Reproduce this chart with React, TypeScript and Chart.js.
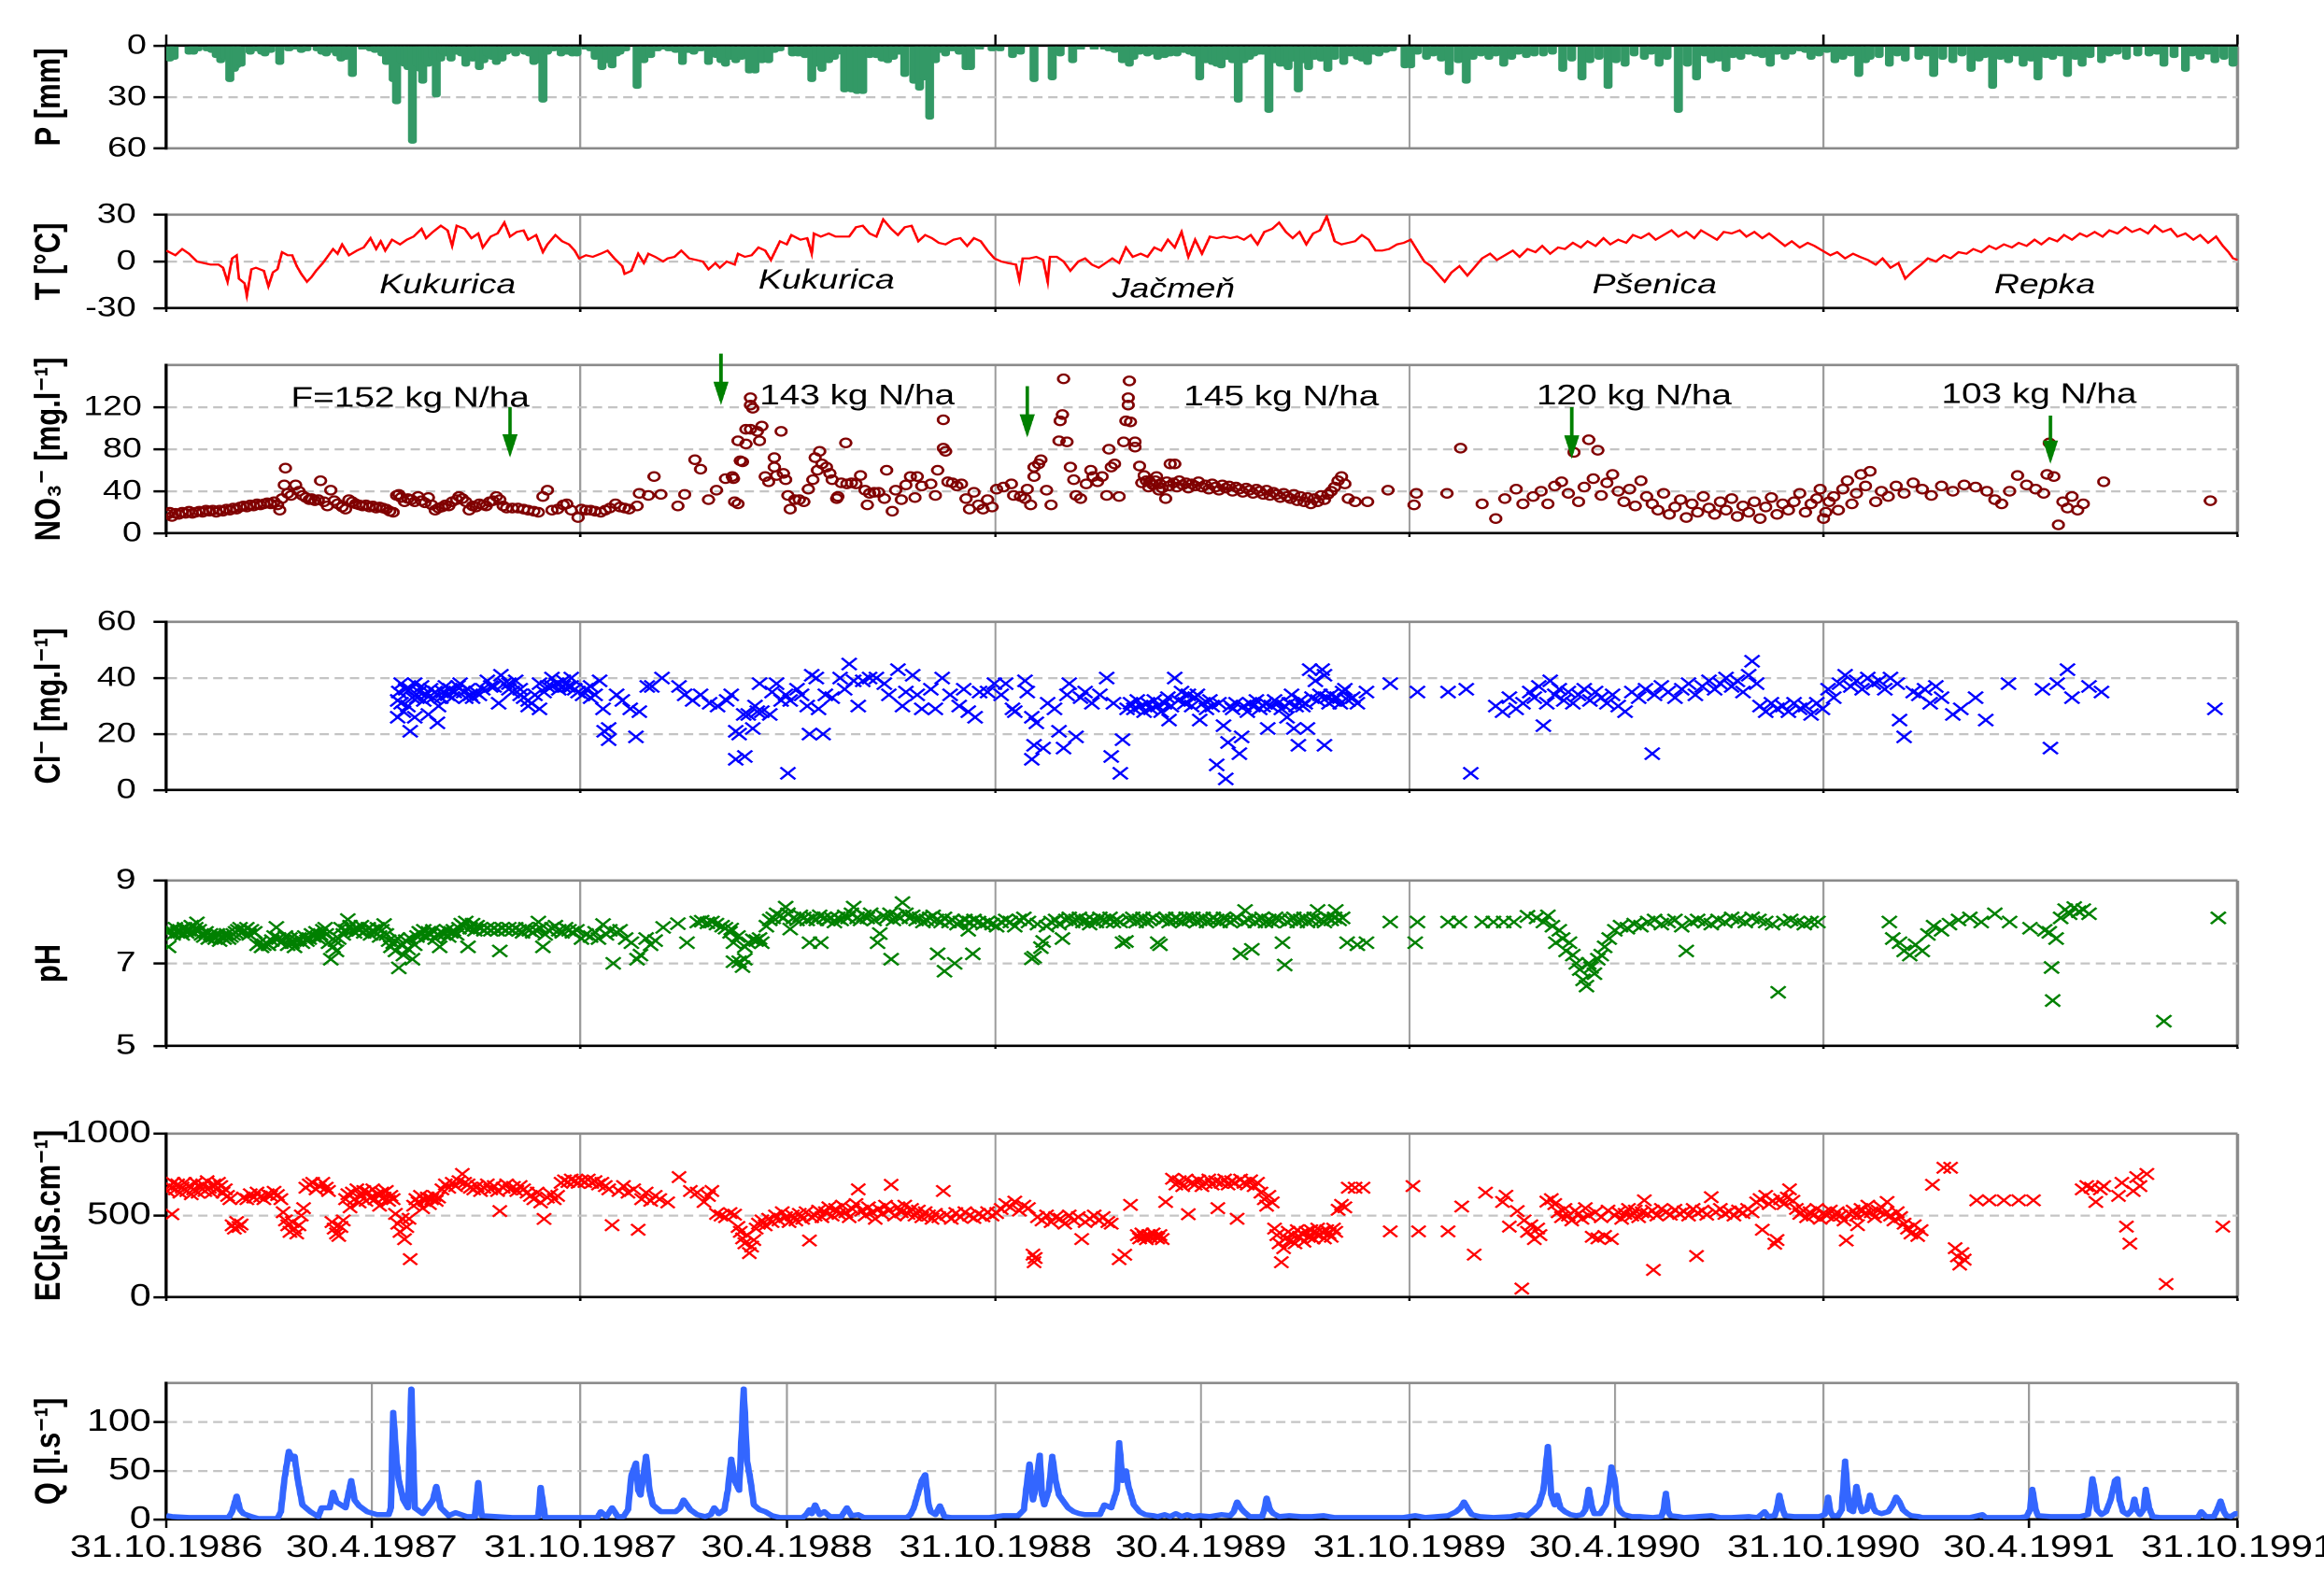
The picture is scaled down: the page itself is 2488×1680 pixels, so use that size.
import React, { useEffect, useRef } from "react";
import { Chart, registerables } from "chart.js";
Chart.register(...registerables);

// ---------------- DATA ----------------
// x = days since 31.10.1986
const dateTickDays = [0, 181, 365, 547, 731, 912, 1096, 1277, 1461, 1642, 1826];
const dateTickLabels = ["31.10.1986", "30.4.1987", "31.10.1987", "30.4.1988", "31.10.1988", "30.4.1989", "31.10.1989", "30.4.1990", "31.10.1990", "30.4.1991", "31.10.1991"];
const yearTickDays = [0, 365, 731, 1096, 1461, 1826];

const precip: [number, number][] = [[3,9],[7,8],[20,5],[24,5],[28,3],[36,3],[40,4],[44,7],[48,10],[52,8],[56,21],[60,15],[62,13],[66,12],[74,5],[80,3],[84,5],[87,6],[92,4],[100,11],[108,3],[113,2],[119,4],[124,3],[133,3],[137,5],[141,6],[146,4],[150,6],[154,9],[158,8],[164,18],[173,2],[180,3],[184,4],[186,3],[190,6],[194,11],[197,8],[200,21],[203,34],[207,10],[210,12],[213,14],[217,57],[221,12],[224,15],[226,22],[229,10],[231,12],[235,8],[238,30],[242,9],[244,5],[247,6],[251,9],[256,5],[260,6],[264,12],[270,9],[273,8],[276,14],[280,10],[283,6],[287,8],[291,11],[296,9],[300,5],[304,4],[308,6],[312,3],[316,5],[320,6],[324,11],[328,10],[332,33],[336,5],[341,3],[348,6],[353,5],[358,6],[362,6],[370,2],[374,3],[378,8],[384,14],[389,10],[393,13],[397,6],[400,5],[405,3],[415,25],[421,10],[427,7],[433,3],[437,2],[443,3],[449,4],[455,11],[460,4],[465,5],[471,3],[478,11],[485,7],[489,10],[493,12],[497,8],[502,10],[507,8],[514,16],[519,16],[525,10],[531,10],[536,4],[541,3],[552,6],[557,6],[563,7],[569,21],[573,12],[578,15],[584,10],[589,8],[592,5],[598,27],[604,27],[609,28],[614,28],[620,7],[626,7],[631,9],[636,10],[641,8],[646,5],[651,18],[659,22],[664,26],[668,20],[673,43],[678,10],[683,4],[687,6],[693,3],[699,5],[705,14],[709,14],[713,1],[717,2],[728,3],[735,3],[746,7],[753,5],[765,21],[781,20],[788,6],[799,10],[806,2],[818,2],[827,2],[831,3],[836,4],[843,10],[849,12],[853,8],[858,5],[865,6],[869,5],[874,8],[880,7],[885,6],[891,6],[897,4],[902,5],[906,6],[911,20],[916,10],[922,11],[926,12],[930,13],[935,8],[940,10],[945,33],[950,10],[955,8],[959,6],[963,5],[967,5],[972,39],[977,10],[982,12],[986,12],[989,14],[993,9],[998,27],[1003,10],[1007,14],[1012,8],[1018,9],[1024,15],[1030,8],[1038,11],[1044,6],[1050,8],[1054,9],[1059,11],[1064,5],[1069,6],[1075,4],[1081,3],[1092,13],[1097,13],[1103,5],[1111,8],[1117,6],[1124,9],[1131,17],[1139,10],[1146,22],[1152,8],[1159,6],[1166,8],[1172,6],[1179,12],[1186,8],[1192,5],[1199,7],[1206,6],[1214,6],[1222,5],[1231,15],[1239,9],[1248,20],[1255,10],[1263,8],[1271,25],[1278,10],[1286,12],[1294,6],[1303,8],[1309,5],[1316,12],[1323,8],[1333,39],[1341,12],[1349,20],[1356,6],[1362,10],[1369,9],[1375,15],[1381,7],[1388,8],[1395,5],[1401,6],[1407,7],[1414,12],[1420,5],[1427,8],[1433,5],[1440,3],[1445,4],[1450,8],[1457,6],[1464,4],[1471,10],[1478,8],[1485,6],[1492,18],[1498,10],[1502,8],[1510,7],[1519,12],[1526,6],[1533,9],[1545,8],[1552,6],[1558,18],[1566,8],[1575,10],[1583,6],[1591,15],[1598,9],[1603,7],[1610,25],[1617,8],[1624,10],[1631,6],[1637,12],[1644,9],[1650,20],[1657,7],[1663,8],[1670,6],[1676,18],[1683,8],[1689,12],[1696,7],[1706,10],[1713,6],[1720,5],[1728,8],[1738,6],[1748,6],[1755,5],[1761,12],[1770,7],[1780,15],[1786,6],[1793,8],[1800,5],[1806,10],[1814,8],[1822,12]];

const temperature: [number, number][] = [[0,7],[8,4],[14,8],[20,5],[27,0],[33,-1],[39,-2],[46,-2],[50,-4],[54,-13],[58,2],[62,4],[64,-11],[69,-14],[71,-22],[75,-5],[79,-4],[86,-6],[90,-16],[94,-7],[98,-5],[102,6],[107,4],[111,4],[115,-3],[119,-8],[124,-13],[128,-10],[132,-6],[138,-1],[142,3],[147,8],[151,5],[155,11],[161,4],[168,7],[174,9],[180,15],[185,8],[189,13],[193,7],[199,14],[206,11],[212,14],[218,16],[225,21],[229,15],[235,19],[242,23],[248,20],[252,10],[256,23],[263,21],[269,15],[275,18],[279,9],[286,16],[292,18],[298,25],[303,16],[309,19],[315,20],[319,14],[326,17],[332,6],[336,11],[343,17],[349,13],[355,11],[360,7],[364,2],[370,4],[376,3],[383,5],[389,7],[395,2],[402,-3],[404,-8],[410,-6],[416,5],[421,-1],[425,5],[431,3],[438,0],[442,2],[448,3],[454,7],[461,2],[467,1],[473,0],[478,-5],[484,-1],[488,-4],[494,0],[501,-2],[504,5],[510,3],[516,4],[522,9],[528,7],[533,1],[541,13],[547,11],[551,17],[559,14],[565,15],[569,5],[571,18],[577,16],[584,18],[590,16],[596,16],[602,16],[608,22],[614,23],[620,18],[626,16],[632,27],[639,21],[645,17],[651,22],[657,23],[663,13],[669,17],[675,15],[681,12],[687,11],[694,14],[700,15],[706,10],[712,15],[718,13],[724,7],[730,2],[736,0],[742,-1],[749,-2],[752,-12],[755,2],[761,2],[767,3],[773,1],[777,-13],[779,3],[785,3],[791,0],[797,-6],[804,0],[810,2],[816,-2],[822,-4],[828,-1],[834,2],[840,-1],[846,9],[852,3],[859,5],[865,3],[871,9],[877,7],[883,14],[889,9],[895,19],[901,3],[907,14],[913,5],[920,16],[926,15],[932,16],[938,15],[944,16],[950,14],[956,17],[962,11],[968,19],[975,21],[981,25],[987,19],[993,15],[999,19],[1005,11],[1011,18],[1017,20],[1023,29],[1030,13],[1036,11],[1042,12],[1048,13],[1054,17],[1060,14],[1066,7],[1072,7],[1078,8],[1085,11],[1091,12],[1097,14],[1103,7],[1109,0],[1115,-3],[1121,-8],[1127,-13],[1133,-7],[1140,-3],[1147,-9],[1153,-4],[1160,2],[1167,5],[1173,1],[1180,4],[1187,7],[1193,3],[1200,8],[1207,6],[1213,10],[1220,5],[1227,9],[1233,8],[1240,12],[1247,9],[1253,13],[1260,10],[1267,15],[1273,11],[1280,14],[1287,12],[1293,17],[1300,15],[1307,18],[1313,14],[1320,17],[1327,20],[1333,16],[1340,19],[1347,15],[1353,20],[1360,17],[1367,14],[1373,19],[1380,18],[1387,20],[1393,16],[1400,19],[1407,15],[1413,18],[1420,14],[1427,10],[1433,13],[1440,9],[1447,12],[1453,10],[1460,7],[1467,4],[1473,6],[1480,2],[1487,5],[1493,3],[1500,1],[1507,-2],[1513,2],[1520,-4],[1527,-1],[1533,-11],[1540,-6],[1547,-2],[1553,2],[1560,0],[1567,4],[1573,2],[1580,6],[1587,5],[1593,8],[1600,6],[1607,10],[1613,8],[1620,11],[1627,9],[1633,12],[1640,10],[1647,14],[1653,11],[1660,15],[1667,13],[1673,17],[1680,14],[1687,18],[1693,16],[1700,19],[1707,16],[1713,20],[1720,18],[1727,22],[1733,19],[1740,21],[1747,18],[1753,23],[1760,19],[1767,21],[1773,16],[1780,18],[1787,14],[1793,17],[1800,12],[1807,16],[1813,10],[1818,6],[1822,2],[1826,1]];

const nitrate: [number, number][] = [[1,18],[3,20],[5,16],[8,19],[11,18],[14,20],[17,19],[20,21],[23,19],[26,20],[29,21],[32,20],[35,22],[38,21],[41,22],[44,20],[47,22],[50,21],[53,23],[56,22],[59,24],[62,23],[65,25],[68,26],[71,25],[74,27],[77,26],[80,28],[83,27],[86,28],[89,29],[92,28],[95,30],[98,27],[100,22],[102,33],[104,46],[105,62],[107,38],[110,36],[114,46],[117,40],[120,36],[123,34],[126,32],[128,33],[131,31],[134,32],[136,50],[139,30],[142,26],[145,41],[148,31],[151,28],[155,25],[158,23],[161,32],[164,30],[167,28],[170,27],[173,26],[176,27],[179,25],[182,26],[185,24],[188,25],[191,24],[194,23],[197,21],[200,20],[203,36],[205,37],[207,34],[210,30],[213,33],[216,32],[219,30],[222,35],[225,31],[228,29],[231,34],[234,27],[237,22],[240,24],[243,25],[246,27],[249,26],[252,30],[256,32],[258,35],[261,33],[264,30],[267,22],[270,26],[273,25],[276,28],[279,27],[282,26],[285,30],[288,31],[291,35],[294,32],[297,26],[300,24],[305,24],[310,24],[315,23],[319,22],[324,21],[328,20],[332,35],[336,41],[340,22],[345,23],[350,27],[353,28],[357,22],[363,15],[366,23],[370,22],[374,22],[378,21],[383,20],[387,22],[391,24],[396,28],[400,25],[404,24],[408,23],[415,26],[417,38],[425,36],[430,54],[436,37],[451,26],[457,37],[466,70],[471,61],[478,32],[485,41],[493,52],[500,52],[504,88],[504,28],[508,68],[501,30],[499,54],[506,69],[511,85],[511,99],[515,99],[521,97],[525,102],[523,88],[515,122],[517,119],[515,129],[528,54],[531,49],[536,72],[536,63],[538,55],[542,97],[544,57],[546,51],[548,36],[550,23],[554,32],[558,32],[562,30],[566,42],[570,51],[572,72],[574,60],[576,78],[578,66],[582,63],[585,57],[587,51],[591,33],[592,35],[595,48],[599,86],[600,47],[604,48],[608,47],[612,55],[616,41],[618,27],[620,38],[624,39],[628,39],[633,33],[635,60],[640,21],[643,41],[648,32],[652,46],[656,54],[660,34],[662,54],[666,45],[674,47],[678,36],[680,60],[685,108],[685,81],[687,78],[689,49],[693,48],[697,45],[701,47],[705,33],[708,23],[712,39],[716,27],[720,23],[724,32],[728,25],[732,42],[738,44],[745,47],[747,36],[753,35],[757,33],[759,42],[762,27],[765,54],[765,63],[769,66],[771,70],[776,41],[780,27],[787,88],[788,107],[790,113],[791,147],[794,87],[797,63],[800,51],[802,36],[806,33],[811,47],[815,60],[817,54],[821,49],[825,54],[829,36],[831,80],[833,63],[836,66],[840,35],[844,87],[846,107],[848,122],[848,129],[849,145],[850,106],[854,87],[854,82],[858,64],[862,55],[867,49],[869,47],[873,54],[875,41],[881,33],[885,66],[889,66],[860,48],[864,50],[866,44],[870,46],[872,50],[876,47],[878,43],[882,49],[884,45],[888,48],[891,44],[893,50],[896,46],[899,48],[901,43],[904,47],[907,45],[910,49],[913,44],[916,46],[919,42],[922,47],[925,44],[928,41],[931,46],[934,43],[937,45],[940,40],[943,44],[946,42],[949,39],[952,43],[955,41],[958,38],[961,42],[964,40],[967,37],[970,41],[973,36],[976,39],[979,37],[982,34],[985,38],[988,35],[991,33],[994,37],[997,31],[1000,35],[1003,30],[1006,34],[1009,28],[1012,33],[1015,30],[1018,36],[1021,32],[1024,37],[1027,40],[1030,44],[1033,50],[1036,54],[1039,47],[1042,33],[1048,30],[1059,30],[1077,41],[1100,27],[1102,38],[1129,38],[1141,81],[1160,28],[1172,14],[1180,33],[1190,42],[1196,28],[1205,35],[1212,40],[1218,28],[1224,45],[1230,49],[1236,38],[1241,77],[1245,30],[1250,44],[1254,89],[1258,52],[1262,79],[1265,36],[1270,48],[1275,56],[1280,40],[1285,30],[1290,42],[1295,26],[1300,50],[1305,35],[1310,28],[1315,22],[1320,38],[1325,18],[1330,25],[1335,32],[1340,15],[1345,28],[1350,20],[1355,35],[1360,24],[1365,18],[1370,30],[1375,22],[1380,33],[1385,16],[1390,26],[1395,20],[1400,30],[1405,14],[1410,25],[1415,34],[1420,18],[1425,28],[1430,22],[1435,30],[1440,38],[1445,20],[1450,28],[1455,33],[1458,42],[1461,14],[1463,20],[1466,30],[1470,35],[1474,22],[1478,42],[1482,50],[1486,28],[1490,38],[1494,56],[1498,45],[1502,59],[1507,30],[1512,40],[1518,35],[1525,45],[1532,38],[1540,48],[1548,42],[1556,36],[1565,45],[1575,40],[1585,46],[1595,44],[1605,40],[1612,32],[1618,28],[1625,40],[1632,55],[1640,46],[1648,42],[1655,38],[1658,56],[1660,86],[1664,54],[1668,8],[1672,30],[1676,24],[1680,35],[1685,22],[1690,28],[1708,49],[1802,31]];

const chloride: [number, number][] = [[204,26],[204,32],[205,35],[207,38],[207,31],[209,28],[211,36],[213,30],[215,21],[215,36],[217,33],[219,26],[219,38],[221,33],[223,35],[225,37],[227,32],[229,34],[231,27],[233,36],[235,33],[237,35],[239,24],[240,30],[242,33],[244,35],[246,37],[248,34],[250,36],[252,33],[254,35],[257,37],[259,38],[262,35],[264,33],[266,36],[268,34],[270,33],[273,35],[276,34],[279,36],[283,39],[286,37],[289,37],[293,31],[295,41],[298,38],[302,38],[302,36],[305,35],[308,39],[312,36],[312,34],[315,33],[319,30],[319,32],[322,31],[325,34],[329,29],[329,38],[333,35],[336,37],[340,40],[340,37],[344,38],[346,36],[350,37],[350,39],[354,37],[357,40],[357,37],[360,36],[363,35],[367,34],[370,36],[374,37],[374,33],[378,34],[382,39],[385,29],[386,21],[390,22],[390,18],[397,34],[402,32],[409,29],[414,19],[417,28],[424,37],[428,37],[437,40],[452,37],[457,34],[464,32],[471,34],[479,31],[486,30],[494,32],[498,34],[502,21],[502,11],[505,20],[509,27],[510,12],[513,27],[517,22],[519,30],[521,28],[523,38],[525,28],[532,27],[534,35],[538,38],[542,32],[546,34],[548,6],[550,32],[556,36],[560,34],[565,30],[567,20],[569,41],[573,40],[575,29],[579,20],[581,34],[587,33],[594,40],[598,36],[602,45],[606,39],[610,30],[614,39],[620,40],[626,40],[633,38],[637,34],[645,43],[649,30],[652,35],[658,41],[662,34],[666,29],[674,36],[678,29],[684,40],[691,34],[699,30],[703,36],[707,28],[713,26],[717,35],[724,35],[730,38],[736,34],[740,38],[746,29],[748,28],[757,39],[759,35],[763,26],[765,16],[763,11],[767,24],[773,15],[777,31],[783,29],[787,21],[791,15],[794,34],[796,38],[802,19],[806,33],[810,35],[816,31],[823,34],[829,40],[833,12],[835,31],[841,6],[843,18],[847,29],[850,31],[853,29],[856,32],[859,30],[862,28],[865,31],[868,29],[871,32],[874,30],[877,28],[880,31],[883,33],[884,25],[886,30],[889,40],[892,32],[895,35],[898,31],[901,34],[904,30],[907,33],[909,34],[911,25],[914,31],[917,29],[920,32],[922,30],[926,9],[928,31],[932,23],[934,4],[936,17],[938,30],[940,29],[943,31],[946,13],[948,19],[950,30],[953,28],[955,31],[958,30],[961,32],[964,29],[967,30],[969,31],[971,22],[974,30],[977,32],[980,31],[983,29],[986,30],[988,26],[990,31],[992,34],[994,22],[996,30],[998,16],[1000,32],[1002,30],[1004,31],[1006,22],[1008,43],[1010,33],[1013,39],[1015,32],[1017,34],[1019,43],[1021,16],[1021,41],[1023,33],[1025,31],[1027,34],[1029,32],[1032,33],[1035,31],[1037,35],[1039,36],[1042,32],[1046,33],[1050,31],[1058,35],[1079,38],[1103,35],[1130,35],[1146,36],[1150,6],[1172,30],[1178,28],[1184,33],[1190,29],[1196,31],[1202,35],[1206,33],[1210,37],[1214,23],[1217,31],[1220,39],[1224,34],[1228,36],[1232,32],[1236,35],[1240,31],[1245,34],[1250,36],[1255,32],[1260,35],[1265,33],[1270,31],[1275,34],[1280,30],[1286,28],[1292,35],[1298,33],[1304,36],[1310,13],[1312,34],[1318,37],[1324,35],[1330,33],[1336,36],[1342,38],[1348,34],[1354,37],[1360,39],[1365,36],[1370,38],[1375,40],[1380,37],[1385,39],[1390,35],[1395,41],[1398,46],[1402,38],[1405,30],[1410,28],[1415,31],[1420,29],[1425,30],[1430,28],[1435,31],[1440,29],[1445,30],[1450,27],[1455,31],[1460,29],[1465,36],[1470,33],[1475,38],[1480,41],[1485,37],[1490,39],[1495,36],[1500,40],[1505,38],[1510,39],[1515,36],[1520,40],[1528,25],[1532,19],[1526,38],[1540,35],[1545,34],[1550,36],[1555,31],[1560,37],[1565,33],[1575,27],[1582,29],[1595,33],[1604,25],[1624,38],[1654,36],[1661,15],[1667,38],[1676,43],[1680,33],[1695,37],[1706,35],[1806,29]];

const ph: [number, number][] = [[1,7.75],[2,7.4],[4,7.8],[6,7.7],[8,7.85],[10,7.75],[12,7.8],[14,7.7],[16,7.85],[18,7.75],[20,7.8],[22,7.9],[24,7.75],[26,7.85],[27,7.98],[29,7.8],[31,7.7],[33,7.65],[35,7.75],[37,7.6],[39,7.7],[41,7.65],[43,7.6],[45,7.7],[47,7.55],[49,7.65],[51,7.6],[53,7.7],[55,7.6],[57,7.65],[59,7.7],[61,7.75],[63,7.8],[65,7.85],[67,7.75],[69,7.8],[71,7.85],[73,7.7],[75,7.8],[78,7.75],[80,7.45],[82,7.5],[84,7.4],[86,7.45],[88,7.5],[90,7.45],[93,7.55],[95,7.65],[97,7.87],[99,7.6],[101,7.5],[103,7.55],[105,7.65],[107,7.45],[109,7.6],[111,7.5],[113,7.4],[115,7.55],[117,7.6],[120,7.5],[122,7.65],[124,7.55],[126,7.6],[128,7.7],[130,7.65],[132,7.75],[134,7.6],[136,7.7],[138,7.8],[140,7.85],[141,7.7],[143,7.5],[145,7.1],[147,7.4],[149,7.55],[150,7.3],[152,7.6],[154,7.85],[156,7.7],[158,7.8],[160,8.06],[162,7.9],[164,7.8],[166,7.75],[168,7.85],[170,7.8],[172,7.9],[174,7.75],[176,7.8],[178,7.85],[180,7.7],[182,7.8],[184,7.75],[186,7.85],[188,7.65],[190,7.8],[192,7.94],[194,7.7],[196,7.55],[198,7.4],[200,7.5],[202,7.3],[204,7.6],[205,6.89],[207,7.45],[209,7.2],[211,7.55],[213,7.35],[215,7.6],[217,7.1],[219,7.45],[221,7.65],[223,7.75],[225,7.7],[227,7.8],[229,7.65],[231,7.75],[233,7.7],[235,7.8],[237,7.6],[239,7.7],[241,7.4],[243,7.75],[245,7.7],[247,7.8],[249,7.65],[251,7.75],[253,7.8],[256,7.7],[258,7.85],[260,7.95],[262,7.9],[264,8.0],[266,7.4],[268,7.85],[270,7.95],[272,7.8],[274,7.9],[277,7.85],[280,7.8],[283,7.85],[286,7.8],[289,7.85],[292,7.8],[294,7.3],[296,7.85],[299,7.8],[302,7.85],[305,7.8],[308,7.85],[311,7.8],[314,7.75],[317,7.85],[320,7.8],[323,7.75],[326,7.8],[328,8.0],[330,7.85],[332,7.4],[334,7.7],[337,7.8],[340,7.85],[343,7.9],[346,7.8],[349,7.75],[352,7.85],[355,7.8],[358,7.75],[362,7.8],[366,7.6],[370,7.7],[374,7.65],[378,7.75],[381,7.6],[385,7.94],[388,7.7],[391,7.8],[394,7.0],[397,7.75],[400,7.8],[405,7.6],[410,7.5],[415,7.1],[418,7.2],[423,7.6],[427,7.45],[431,7.55],[438,7.87],[451,7.96],[459,7.5],[468,8.0],[472,8.02],[477,7.98],[481,8.0],[485,7.95],[490,7.9],[493,7.85],[497,7.75],[498,7.83],[500,7.5],[500,7.04],[504,7.65],[505,7.04],[508,6.92],[510,7.1],[510,7.4],[513,7.5],[517,7.57],[520,7.55],[523,7.6],[525,7.5],[529,7.9],[532,8.05],[535,8.1],[538,8.2],[541,8.15],[544,8.1],[546,8.36],[548,8.2],[550,7.83],[553,8.1],[556,8.05],[559,8.15],[562,8.1],[565,8.05],[567,7.5],[570,8.1],[573,8.05],[576,8.15],[577,7.5],[580,8.1],[583,8.05],[586,8.1],[589,8.0],[592,8.1],[595,8.05],[598,8.15],[601,8.1],[604,8.2],[606,8.36],[609,8.1],[612,8.05],[615,8.15],[618,8.1],[621,8.2],[624,8.05],[627,7.5],[629,7.72],[632,8.15],[635,8.1],[638,8.2],[639,7.1],[641,8.05],[644,8.15],[647,8.1],[649,8.47],[652,8.2],[655,8.1],[658,8.15],[661,8.05],[664,8.1],[667,8.0],[670,8.05],[673,8.1],[676,8.15],[680,7.23],[679,8.05],[683,8.0],[686,6.81],[686,8.1],[690,8.0],[693,8.05],[695,7.0],[697,7.95],[700,8.0],[704,8.05],[707,7.8],[708,8.0],[711,7.23],[712,8.05],[716,8.0],[720,7.95],[724,8.0],[728,7.95],[732,7.9],[736,8.0],[740,8.05],[744,8.0],[748,7.9],[752,8.05],[756,8.1],[760,8.0],[763,7.11],[765,7.15],[768,7.95],[771,7.38],[773,7.53],[776,7.9],[780,8.0],[784,8.05],[787,7.95],[790,7.6],[793,8.05],[796,8.1],[799,8.0],[802,8.05],[805,8.1],[808,8.0],[811,8.05],[814,7.95],[817,8.05],[820,8.0],[823,8.1],[826,8.05],[829,8.0],[832,8.1],[835,8.0],[838,8.05],[841,8.0],[843,7.5],[846,7.53],[849,8.05],[852,8.1],[855,8.0],[858,8.05],[861,8.1],[864,8.0],[867,8.05],[870,8.1],[874,7.5],[876,7.45],[878,8.05],[881,8.1],[884,8.0],[887,8.05],[890,8.1],[893,8.05],[896,8.0],[899,8.1],[902,8.05],[905,8.1],[908,8.0],[911,8.05],[914,8.1],[917,8.0],[920,8.05],[923,8.1],[926,8.05],[929,8.0],[932,8.1],[935,8.05],[938,8.0],[941,8.05],[944,8.1],[947,7.23],[950,8.0],[951,8.28],[954,8.05],[957,7.34],[960,8.0],[963,8.05],[966,8.1],[969,8.0],[972,8.05],[975,8.0],[978,8.1],[981,8.05],[984,7.5],[986,6.96],[988,8.0],[991,8.05],[994,8.1],[997,8.0],[1000,8.05],[1003,8.1],[1006,8.0],[1009,8.05],[1012,8.1],[1015,8.28],[1018,8.05],[1021,8.0],[1024,8.1],[1027,8.05],[1030,8.1],[1031,8.28],[1034,8.05],[1037,8.1],[1041,7.5],[1050,7.45],[1058,7.5],[1079,8.0],[1101,7.5],[1103,8.0],[1130,8.0],[1140,8.0],[1160,8.0],[1170,8.0],[1179,8.0],[1188,8.0],[1200,8.14],[1208,8.1],[1214,8.0],[1218,8.15],[1222,7.9],[1225,7.5],[1228,7.8],[1231,7.6],[1234,7.3],[1237,7.5],[1240,7.2],[1243,7.0],[1246,6.85],[1249,6.6],[1252,6.45],[1254,7.0],[1256,6.9],[1259,6.75],[1262,7.1],[1265,7.2],[1268,7.4],[1272,7.6],[1277,7.8],[1282,7.9],[1288,7.85],[1294,7.95],[1300,7.9],[1306,8.0],[1312,8.05],[1318,7.95],[1324,8.0],[1330,8.05],[1336,7.9],[1340,7.3],[1345,8.0],[1350,8.05],[1356,8.0],[1362,7.95],[1368,8.05],[1374,8.0],[1380,8.1],[1386,8.05],[1392,8.0],[1398,8.1],[1404,8.05],[1410,8.0],[1416,7.95],[1421,6.3],[1426,8.0],[1432,8.05],[1438,8.0],[1444,7.95],[1450,8.0],[1456,8.0],[1519,8.0],[1522,7.6],[1528,7.5],[1532,7.3],[1537,7.2],[1542,7.45],[1548,7.3],[1553,7.7],[1558,7.9],[1565,7.8],[1572,7.95],[1580,8.05],[1590,8.1],[1600,8.0],[1612,8.2],[1625,8.0],[1643,7.85],[1656,7.8],[1660,7.75],[1662,6.9],[1663,6.1],[1666,7.6],[1670,8.1],[1674,8.3],[1678,8.2],[1682,8.35],[1686,8.25],[1690,8.3],[1695,8.2],[1761,5.6],[1809,8.1]];

const conductivity: [number, number][] = [[1,650],[3,680],[5,508],[6,700],[8,660],[10,690],[12,640],[14,670],[16,700],[18,650],[20,680],[22,630],[24,660],[26,700],[28,640],[30,670],[32,690],[34,650],[36,710],[38,670],[40,640],[42,690],[44,660],[46,700],[48,680],[50,640],[52,660],[54,620],[56,600],[58,440],[60,420],[62,460],[64,430],[66,445],[68,610],[71,600],[74,630],[77,610],[80,640],[83,615],[86,600],[89,630],[92,620],[95,645],[98,625],[101,600],[103,520],[105,470],[107,440],[109,400],[111,460],[113,420],[115,390],[117,440],[119,500],[121,545],[123,670],[126,690],[129,700],[132,660],[135,680],[138,700],[141,670],[143,650],[146,460],[148,420],[150,390],[152,375],[154,430],[156,470],[158,600],[160,630],[162,550],[164,640],[166,600],[168,660],[170,580],[172,620],[174,650],[176,590],[178,640],[180,610],[182,660],[184,600],[186,630],[188,560],[190,640],[192,610],[194,650],[196,590],[198,620],[200,600],[202,510],[204,450],[206,400],[208,480],[210,355],[212,430],[214,480],[215,233],[218,560],[220,600],[222,580],[224,620],[226,545],[228,590],[230,610],[232,570],[234,600],[236,620],[238,590],[240,610],[243,660],[246,690],[249,670],[252,700],[255,680],[258,710],[261,754],[263,700],[266,690],[268,670],[271,660],[274,680],[277,650],[280,670],[283,690],[286,660],[289,680],[292,650],[294,527],[297,670],[300,690],[303,660],[306,675],[309,650],[312,680],[315,660],[318,640],[321,620],[324,600],[327,640],[330,580],[333,479],[336,610],[339,630],[342,600],[345,620],[348,700],[351,715],[354,705],[357,720],[360,710],[363,700],[366,715],[369,705],[372,720],[375,700],[378,710],[381,690],[384,700],[387,680],[390,660],[393,441],[399,650],[403,680],[407,640],[412,660],[416,413],[419,600],[423,640],[427,590],[431,620],[435,600],[442,580],[452,735],[462,650],[468,640],[474,583],[478,620],[481,650],[485,510],[489,500],[493,490],[497,515],[501,505],[504,430],[506,400],[508,360],[510,330],[512,380],[514,270],[516,310],[518,350],[520,420],[522,450],[525,470],[528,440],[531,480],[534,460],[537,500],[540,470],[543,520],[546,490],[549,460],[552,500],[555,470],[558,510],[561,480],[564,520],[567,347],[569,490],[572,500],[575,530],[578,490],[581,520],[584,550],[587,500],[590,540],[593,510],[596,560],[599,520],[602,490],[605,540],[608,570],[610,660],[613,530],[616,500],[619,550],[622,520],[625,480],[628,540],[631,510],[634,560],[637,530],[639,688],[642,500],[645,550],[648,520],[651,560],[654,510],[657,540],[660,500],[663,530],[666,490],[669,520],[672,500],[675,480],[678,510],[681,490],[685,650],[688,505],[692,480],[696,515],[700,490],[704,520],[708,500],[712,485],[716,510],[720,495],[724,520],[728,500],[732,515],[736,540],[740,570],[744,550],[748,585],[752,530],[756,560],[760,545],[764,261],[765,214],[766,240],[768,490],[772,470],[776,500],[780,460],[784,490],[788,480],[792,450],[796,500],[800,470],[804,490],[807,356],[810,460],[814,480],[818,500],[822,470],[826,490],[830,460],[833,450],[840,233],[845,260],[850,565],[856,380],[858,360],[860,390],[862,370],[864,355],[866,380],[868,365],[870,390],[872,370],[874,360],[876,380],[878,356],[881,583],[887,725],[890,690],[893,710],[896,680],[899,720],[901,508],[904,700],[907,690],[910,715],[913,680],[916,700],[919,720],[922,690],[925,710],[927,545],[930,700],[933,720],[936,690],[939,710],[942,700],[944,480],[947,720],[950,700],[953,690],[956,715],[959,680],[962,700],[965,640],[968,600],[970,560],[972,620],[975,580],[977,420],[979,380],[981,330],[983,214],[985,300],[987,360],[989,400],[991,350],[993,380],[995,330],[997,410],[999,370],[1001,390],[1003,340],[1005,400],[1007,370],[1009,410],[1011,360],[1013,390],[1015,420],[1017,380],[1019,400],[1021,360],[1023,410],[1025,390],[1027,370],[1029,420],[1031,400],[1033,535],[1036,565],[1039,550],[1042,670],[1048,670],[1055,670],[1079,403],[1099,680],[1104,403],[1130,403],[1142,555],[1153,261],[1163,640],[1178,583],[1181,621],[1184,432],[1191,527],[1195,53],[1197,470],[1200,400],[1203,440],[1206,356],[1209,420],[1211,380],[1217,585],[1221,600],[1224,570],[1227,520],[1230,490],[1233,540],[1236,500],[1239,470],[1242,530],[1245,510],[1248,480],[1251,545],[1254,500],[1257,370],[1260,520],[1262,360],[1265,490],[1268,375],[1271,530],[1274,356],[1277,500],[1280,520],[1283,480],[1286,510],[1289,540],[1292,500],[1295,530],[1298,490],[1301,520],[1303,593],[1311,167],[1306,510],[1310,530],[1314,500],[1318,540],[1322,520],[1326,505],[1330,535],[1334,510],[1338,525],[1342,500],[1346,540],[1349,252],[1350,515],[1354,530],[1358,505],[1362,612],[1366,520],[1370,540],[1374,510],[1378,525],[1382,500],[1386,530],[1390,515],[1394,540],[1398,520],[1402,580],[1405,600],[1407,413],[1410,620],[1413,570],[1416,590],[1418,327],[1420,350],[1423,600],[1426,570],[1429,610],[1431,660],[1434,590],[1437,540],[1440,510],[1443,530],[1446,490],[1449,520],[1452,500],[1455,540],[1458,480],[1461,515],[1464,500],[1467,530],[1470,490],[1473,520],[1476,500],[1479,470],[1481,347],[1484,510],[1487,530],[1490,500],[1491,441],[1494,540],[1497,510],[1500,560],[1503,520],[1506,490],[1509,530],[1512,550],[1515,510],[1517,583],[1520,500],[1523,470],[1526,520],[1529,490],[1532,450],[1535,420],[1538,390],[1541,440],[1544,375],[1547,410],[1557,688],[1567,792],[1573,792],[1577,300],[1579,250],[1581,200],[1583,270],[1585,230],[1596,593],[1607,593],[1620,593],[1633,593],[1646,593],[1689,660],[1693,680],[1697,670],[1701,583],[1705,660],[1708,680],[1721,620],[1724,700],[1728,432],[1731,328],[1734,650],[1737,735],[1740,680],[1746,754],[1763,81],[1813,432]];

const discharge: [number, number][] = [[0,4],[5,3],[20,2],[40,2],[55,2],[58,8],[62,24],[65,10],[68,6],[75,3],[81,1],[98,1],[101,8],[104,40],[108,70],[111,62],[113,65],[116,40],[120,15],[127,8],[134,3],[137,12],[144,12],[147,28],[150,18],[154,15],[158,12],[163,40],[166,20],[170,14],[177,8],[186,5],[196,5],[198,12],[200,110],[203,60],[205,40],[209,20],[213,12],[216,134],[219,12],[226,6],[232,15],[235,20],[238,34],[242,12],[249,4],[255,7],[265,3],[272,3],[275,38],[278,4],[291,3],[305,2],[324,2],[328,3],[330,33],[334,2],[337,2],[380,2],[383,8],[388,3],[393,12],[398,3],[403,3],[407,10],[410,45],[414,58],[416,30],[418,25],[423,65],[426,30],[429,15],[436,8],[449,8],[453,12],[456,20],[462,10],[468,5],[475,3],[480,5],[483,12],[487,6],[492,10],[495,30],[498,62],[501,40],[505,30],[509,134],[512,60],[515,40],[518,15],[523,10],[528,8],[534,4],[541,2],[561,2],[564,5],[567,10],[569,6],[572,15],[576,5],[580,8],[585,3],[595,3],[600,12],[604,4],[610,5],[615,2],[653,2],[656,5],[659,12],[666,40],[669,46],[672,15],[674,8],[678,5],[682,14],[686,3],[692,2],[725,2],[738,4],[751,4],[756,10],[759,40],[761,57],[764,20],[766,30],[770,66],[772,25],[774,15],[778,30],[781,65],[784,40],[787,25],[790,20],[795,12],[800,8],[805,6],[810,5],[823,5],[827,15],[833,12],[838,30],[840,79],[843,40],[846,50],[848,35],[853,15],[858,8],[863,5],[870,4],[874,3],[880,5],[885,3],[890,6],[895,3],[900,5],[905,3],[911,4],[920,3],[930,5],[938,4],[941,8],[944,18],[947,12],[950,8],[955,3],[966,3],[968,10],[970,22],[973,10],[976,6],[981,3],[990,4],[1000,3],[1010,3],[1020,4],[1030,2],[1055,2],[1070,2],[1090,2],[1101,4],[1110,2],[1130,4],[1137,8],[1141,12],[1144,18],[1148,10],[1151,5],[1158,3],[1170,2],[1185,3],[1193,5],[1200,4],[1206,10],[1210,15],[1214,30],[1218,75],[1221,25],[1224,15],[1226,25],[1229,12],[1233,8],[1238,5],[1243,4],[1248,5],[1251,10],[1254,31],[1257,12],[1259,6],[1264,6],[1269,15],[1272,35],[1274,54],[1277,40],[1279,15],[1282,8],[1285,5],[1292,3],[1299,3],[1310,2],[1318,3],[1320,10],[1322,27],[1324,8],[1326,4],[1333,3],[1338,2],[1350,3],[1362,4],[1370,2],[1380,2],[1395,3],[1403,2],[1409,8],[1412,3],[1418,4],[1420,12],[1422,25],[1425,10],[1427,4],[1435,3],[1444,3],[1457,3],[1462,5],[1464,15],[1465,23],[1467,8],[1469,4],[1474,4],[1477,10],[1480,60],[1482,30],[1484,10],[1487,8],[1490,34],[1493,15],[1495,8],[1499,10],[1502,25],[1505,12],[1507,8],[1512,6],[1518,8],[1522,15],[1525,23],[1528,18],[1531,10],[1535,6],[1538,4],[1545,3],[1548,2],[1570,2],[1590,2],[1601,5],[1604,2],[1620,2],[1634,2],[1640,3],[1643,10],[1645,31],[1648,10],[1650,4],[1661,3],[1675,3],[1687,3],[1694,5],[1696,20],[1698,42],[1700,30],[1702,10],[1706,5],[1710,8],[1714,20],[1716,30],[1718,40],[1720,42],[1722,20],[1725,8],[1729,5],[1733,10],[1735,21],[1737,10],[1740,5],[1743,10],[1745,31],[1748,12],[1751,3],[1758,2],[1791,2],[1794,8],[1798,3],[1805,3],[1808,10],[1811,19],[1814,8],[1816,4],[1820,3],[1824,6],[1826,6]];

const cropNames = ["Kukurica", "Kukurica", "Jačmeň", "Pšenica", "Repka"];
const cropDays = [248, 582, 888, 1312, 1656];
const cropTemps = [-20.5, -17.5, -23, -20.5, -20.5];

const fertLabels = ["F=152 kg N/ha", "143 kg N/ha", "145 kg N/ha", "120 kg N/ha", "103 kg N/ha"];
const fertDays = [215, 609, 983, 1294, 1651];
const fertVals = [120.5, 122.5, 122, 122.5, 124];

const arrowDays = [303, 489, 759, 1239, 1661];
const arrowTops = [120, 171, 140, 120, 112];
const arrowTips = [72, 122, 91, 71, 66];

// ---------------- LAYOUT ----------------
const S = 1.25; // horizontal stretch of the picture
const PAGE_W = 2488;
const CW = Math.round(PAGE_W / S);
const PLOT_L = 178 / S;
const PLOT_R = 2395 / S;
const M = 60;
const FONT = "'Liberation Sans', Arial, 'DejaVu Sans', sans-serif";
const DAYS_MAX = 1826;
const EDGE = "#8a8a8a";
const VGRID = "#9c9c9c";
const DASH = "#c4c4c4";
const TRANSP = "rgba(0,0,0,0)";

type Panel = {
  id: string;
  top: number;
  bottom: number;
  yMin: number;
  yMax: number;
  yTicks: number[];
  hidden?: number[];
  reverse?: boolean;
  title: string;
  tickFont: number;
  tickPad: number;
  xPos: "top" | "bottom";
  xTicks: number[];
  xTickLen: number;
  showDates?: boolean;
  type: "bar" | "line" | "scatter";
  dataset: any;
  extraH?: number;
  annot?: "crops" | "fert";
};

const xy = (arr: [number, number][]) => arr.map(([x, y]) => ({ x, y }));

const PANELS: Panel[] = [
  {
    id: "P", top: 49, bottom: 159, yMin: 0, yMax: 60, yTicks: [0, 30, 60], reverse: true,
    title: "P [mm]", tickFont: 30, tickPad: 6, xPos: "top", xTicks: yearTickDays, xTickLen: 12,
    type: "bar",
    dataset: { type: "bar", data: xy(precip), backgroundColor: "#339966", barThickness: 7, borderRadius: 3, borderSkipped: "start" },
  },
  {
    id: "T", top: 230, bottom: 330, yMin: -30, yMax: 30, yTicks: [-30, 0, 30],
    title: "T [°C]", tickFont: 30, tickPad: 15, xPos: "bottom", xTicks: yearTickDays, xTickLen: 4,
    type: "line", annot: "crops",
    dataset: { type: "line", data: xy(temperature), borderColor: "#ff0000", borderWidth: 2.2, pointRadius: 0, tension: 0 },
  },
  {
    id: "N", top: 391, bottom: 571, yMin: 0, yMax: 160, yTicks: [0, 40, 80, 120, 160], hidden: [160],
    title: "NO\u2083\u207B [mg.l\u207B\u00B9]", tickFont: 30, tickPad: 10, xPos: "bottom", xTicks: yearTickDays, xTickLen: 4,
    type: "scatter", annot: "fert",
    dataset: { data: xy(nitrate), pointStyle: "circle", pointRadius: 4.6, borderWidth: 2.2, borderColor: "#800000", backgroundColor: TRANSP },
  },
  {
    id: "C", top: 666, bottom: 846, yMin: 0, yMax: 60, yTicks: [0, 20, 40, 60],
    title: "Cl\u207B [mg.l\u207B\u00B9]", tickFont: 30, tickPad: 15, xPos: "bottom", xTicks: yearTickDays, xTickLen: 3,
    type: "scatter",
    dataset: { data: xy(chloride), pointStyle: "crossRot", pointRadius: 9, borderWidth: 2.2, borderColor: "#0000ff" },
  },
  {
    id: "H", top: 943, bottom: 1120, yMin: 5, yMax: 9, yTicks: [5, 7, 9],
    title: "pH", tickFont: 31, tickPad: 15, xPos: "bottom", xTicks: yearTickDays, xTickLen: 3,
    type: "scatter",
    dataset: { data: xy(ph), pointStyle: "crossRot", pointRadius: 9, borderWidth: 2.2, borderColor: "#008000" },
  },
  {
    id: "E", top: 1214, bottom: 1389, yMin: 0, yMax: 1000, yTicks: [0, 500, 1000],
    title: "EC[\u03BCS.cm\u207B\u00B9]", tickFont: 33, tickPad: 2, xPos: "bottom", xTicks: yearTickDays, xTickLen: 4,
    type: "scatter",
    dataset: { data: xy(conductivity), pointStyle: "crossRot", pointRadius: 8.5, borderWidth: 2.1, borderColor: "#ff0000" },
  },
  {
    id: "Q", top: 1481, bottom: 1627, yMin: 0, yMax: 140, yTicks: [0, 50, 100, 140], hidden: [140],
    title: "Q [l.s\u207B\u00B9]", tickFont: 33, tickPad: 2, xPos: "bottom", xTicks: dateTickDays, xTickLen: 9,
    showDates: true, extraH: 25, type: "line",
    dataset: { type: "line", data: xy(discharge), borderColor: "#3366ff", borderWidth: 5.5, pointRadius: 0, tension: 0, borderJoinStyle: "round" },
  },
];

function canvasHeight(p: Panel) {
  return p.bottom - p.top + 2 * M + (p.extraH || 0);
}

function annotPlugin(p: Panel) {
  return {
    id: "annot" + p.id,
    afterDatasetsDraw(chart: any) {
      const { ctx } = chart;
      const xs = chart.scales.x;
      const ys = chart.scales.y;
      ctx.save();
      ctx.fillStyle = "#000";
      ctx.textAlign = "center";
      ctx.textBaseline = "alphabetic";
      if (p.annot === "crops") {
        ctx.font = `italic 30px ${FONT}`;
        cropNames.forEach((t, i) => ctx.fillText(t, xs.getPixelForValue(cropDays[i]), ys.getPixelForValue(cropTemps[i])));
      }
      if (p.annot === "fert") {
        ctx.font = `31px ${FONT}`;
        fertLabels.forEach((t, i) => ctx.fillText(t, xs.getPixelForValue(fertDays[i]), ys.getPixelForValue(fertVals[i])));
        ctx.strokeStyle = "#008000";
        ctx.fillStyle = "#008000";
        arrowDays.forEach((d, i) => {
          const x = xs.getPixelForValue(d);
          const y1 = ys.getPixelForValue(arrowTops[i]);
          const y2 = ys.getPixelForValue(arrowTips[i]);
          const head = 25;
          ctx.lineWidth = 3;
          ctx.beginPath();
          ctx.moveTo(x, y1);
          ctx.lineTo(x, y2 - head + 2);
          ctx.stroke();
          ctx.beginPath();
          ctx.moveTo(x - 6.5, y2 - head);
          ctx.lineTo(x + 6.5, y2 - head);
          ctx.lineTo(x, y2);
          ctx.closePath();
          ctx.fill();
        });
      }
      ctx.restore();
    },
  };
}

function buildConfig(p: Panel): any {
  const H = canvasHeight(p);
  const plotH = p.bottom - p.top;
  const xh = p.showDates ? H - M - plotH : 0;
  const titleFont = 31;
  const isInner = (v: number) => v !== p.yMin && v !== p.yMax;
  return {
    type: p.type,
    data: { datasets: [p.dataset] },
    plugins: [annotPlugin(p)],
    options: {
      responsive: false,
      animation: false,
      devicePixelRatio: 2,
      events: [],
      layout: { padding: { left: 0, right: CW - PLOT_R, top: M, bottom: H - M - plotH - xh } },
      plugins: { legend: { display: false }, tooltip: { enabled: false } },
      scales: {
        x: {
          type: "linear",
          min: 0,
          max: DAYS_MAX,
          position: p.xPos,
          offset: false,
          afterBuildTicks: (s: any) => { s.ticks = p.xTicks.map((v) => ({ value: v })); },
          afterFit: (s: any) => { s.height = xh; s.paddingLeft = 0; s.paddingRight = 0; },
          ticks: {
            display: !!p.showDates,
            autoSkip: false,
            maxRotation: 0,
            minRotation: 0,
            padding: 2,
            color: "#000",
            font: { family: FONT, size: 33 },
            callback: (v: number) => {
              const i = dateTickDays.indexOf(v);
              return i >= 0 ? dateTickLabels[i] : "";
            },
          },
          grid: {
            offset: false,
            drawTicks: true,
            tickLength: p.xTickLen,
            tickColor: "#000",
            tickWidth: 2,
            color: (c: any) => {
              const v = c.tick ? c.tick.value : -1;
              if (v === 0) return TRANSP;
              if (v === DAYS_MAX) return EDGE;
              return VGRID;
            },
            lineWidth: (c: any) => (c.tick && c.tick.value === DAYS_MAX ? 2.8 : 1.7),
          },
          border: { display: true, color: "#000", width: 2.6 },
        },
        y: {
          type: "linear",
          min: p.yMin,
          max: p.yMax,
          reverse: !!p.reverse,
          afterBuildTicks: (s: any) => { s.ticks = p.yTicks.map((v) => ({ value: v })); },
          afterFit: (s: any) => { s.width = PLOT_L; s.paddingTop = 0; s.paddingBottom = 0; },
          ticks: {
            padding: p.tickPad,
            color: "#000",
            font: { family: FONT, size: p.tickFont },
            callback: (v: number) => (p.hidden && p.hidden.includes(v) ? "" : String(v)),
          },
          grid: {
            drawTicks: true,
            tickLength: 11,
            tickWidth: 2.5,
            tickColor: (c: any) => (c.tick && p.hidden && p.hidden.includes(c.tick.value) ? TRANSP : "#000"),
            color: (c: any) => {
              const v = c.tick ? c.tick.value : NaN;
              if (v === p.yMin) return TRANSP;
              if (v === p.yMax) return EDGE;
              return DASH;
            },
            lineWidth: (c: any) => (c.tick && c.tick.value === p.yMax ? 2.6 : 2.2),
          },
          border: {
            display: true,
            color: "#000",
            width: 2.6,
            dash: (c: any) => (c.tick && isInner(c.tick.value) ? [8, 5] : []),
          },
          title: {
            display: true,
            text: p.title,
            color: "#000",
            font: { family: FONT, size: titleFont, weight: "bold" },
            padding: { top: 42.4 - (titleFont * 1.2) / 2, bottom: 0 },
          },
        },
      },
    },
  };
}

export default function App() {
  const refs = useRef<(HTMLCanvasElement | null)[]>([]);
  useEffect(() => {
    const charts = PANELS.map((p, i) => new Chart(refs.current[i] as HTMLCanvasElement, buildConfig(p)));
    return () => charts.forEach((c) => c.destroy());
  }, []);
  return (
    <div style={{ position: "absolute", left: 0, top: 0, width: PAGE_W, height: 1680, background: "#fff", overflow: "hidden" }}>
      {PANELS.map((p, i) => {
        const H = canvasHeight(p);
        return (
          <canvas
            key={p.id}
            ref={(el) => { refs.current[i] = el; }}
            width={CW}
            height={H}
            style={{ position: "absolute", left: 0, top: p.top - M, width: PAGE_W + "px", height: H + "px" }}
          />
        );
      })}
    </div>
  );
}
